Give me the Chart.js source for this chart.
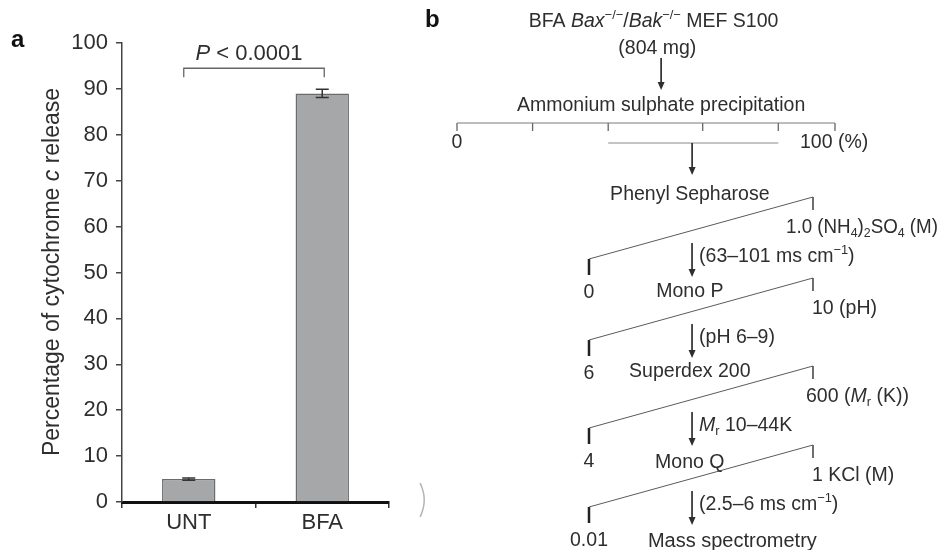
<!DOCTYPE html>
<html>
<head>
<meta charset="utf-8">
<script src="https://cdn.jsdelivr.net/npm/chart.js@4"></script>
<style>
html, body { margin: 0; padding: 0; background: #fff; }
#wrap { position: relative; width: 940px; height: 550px; overflow: hidden; }
#chartA { position: absolute; left: 0; top: 0; }
#chartB { position: absolute; left: 420px; top: 0; }
</style>
</head>
<body>
<div id="wrap">
  <canvas id="chartA" width="430" height="550"></canvas>
  <canvas id="chartB" width="520" height="550"></canvas>
</div>
<script>
// Panel a data
const groups = ['UNT', 'BFA'];
const release = [5, 89];
const releaseErr = [0.25, 0.9];
const sigLevel = 94.5;

// Panel b data (purification scheme)
const cutPoints = [0, 20, 40, 65, 85, 100];   // ammonium sulphate cuts (%)
const poolRange = [40, 85];
const columns = ['Phenyl Sepharose', 'Mono P', 'Superdex 200', 'Mono Q'];
const gradFrom = ['0', '6', '4', '0.01'];
const gradTo = [
    [{ t: '1.0 (NH' }, { t: '4', s: 'sub' }, { t: ')' }, { t: '2', s: 'sub' }, { t: 'SO' }, { t: '4', s: 'sub' }, { t: ' (M)' }],
    [{ t: '10 (pH)' }],
    [{ t: '600 (' }, { t: 'M', i: true }, { t: 'r', s: 'sub' }, { t: ' (K))' }],
    [{ t: '1 KCl (M)' }]
];
const pooled = [
    [{ t: '(63–101 ms cm' }, { t: '−1', s: 'sup' }, { t: ')' }],
    [{ t: '(pH 6–9)' }],
    [{ t: 'M', i: true }, { t: 'r', s: 'sub' }, { t: ' 10–44K' }],
    [{ t: '(2.5–6 ms cm' }, { t: '−1', s: 'sup' }, { t: ')' }]
];
const finalStep = 'Mass spectrometry';

// Layout for panel b (vertical positions, px)
const rowTop = [197, 278, 366, 445];
const nameY = [195, 292, 372, 463];
const endDx = [-27, -1, -7, -1];
const slantDrop = 62;
const scaleY = 123;
const poolY = 143;

const FONT = '"Liberation Sans", Arial, Helvetica, sans-serif';
const INK = '#2e2e2e';

// Draw text made of styled parts (italic, superscript, subscript)
function drawRich(ctx, parts, x, y, align, size, maxWidth) {
    const fontFor = p => (p.i ? 'italic ' : '') + (p.s ? size * 0.66 : size) + 'px ' + FONT;
    let total = 0;
    parts.forEach(p => { ctx.font = fontFor(p); total += ctx.measureText(p.t).width; });
    const k = maxWidth && total > maxWidth ? maxWidth / total : 1;
    const w = total * k;
    const x0 = align === 'center' ? x - w / 2 : (align === 'right' ? x - w : x);
    ctx.save();
    ctx.translate(x0, y);
    ctx.scale(k, 1);
    ctx.textAlign = 'left';
    ctx.textBaseline = 'middle';
    let cx = 0;
    parts.forEach(p => {
        ctx.font = fontFor(p);
        let dy = 0;
        if (p.s === 'sup') dy = -size * 0.32;
        if (p.s === 'sub') dy = size * 0.3;
        ctx.fillText(p.t, cx, dy);
        cx += ctx.measureText(p.t).width;
    });
    ctx.restore();
}

function drawArrow(ctx, x, y1, y2) {
    ctx.beginPath();
    ctx.moveTo(x, y1);
    ctx.lineTo(x, y2 - 6);
    ctx.stroke();
    ctx.beginPath();
    ctx.moveTo(x - 3.5, y2 - 8);
    ctx.lineTo(x + 3.5, y2 - 8);
    ctx.lineTo(x, y2);
    ctx.closePath();
    ctx.fill();
}

// Extras for panel a: error bars, significance bracket, labels
const panelAExtras = {
    id: 'panelAExtras',
    afterDatasetsDraw(chart) {
        const { ctx, scales: { x, y } } = chart;
        ctx.save();
        ctx.strokeStyle = '#333';
        ctx.lineWidth = 1.5;
        release.forEach((v, i) => {
            const cx = x.getPixelForValue(i);
            const top = y.getPixelForValue(v + releaseErr[i]);
            const bot = y.getPixelForValue(v - releaseErr[i]);
            ctx.beginPath();
            ctx.moveTo(cx, top); ctx.lineTo(cx, bot);
            ctx.moveTo(cx - 6.5, top); ctx.lineTo(cx + 6.5, top);
            ctx.moveTo(cx - 6.5, bot); ctx.lineTo(cx + 6.5, bot);
            ctx.stroke();
        });

        // significance bracket
        const x1 = x.getPixelForValue(0) - 5;
        const x2 = x.getPixelForValue(1) + 2;
        const yb = y.getPixelForValue(sigLevel);
        ctx.strokeStyle = '#666';
        ctx.lineWidth = 1.3;
        ctx.beginPath();
        ctx.moveTo(x1, yb + 9); ctx.lineTo(x1, yb); ctx.lineTo(x2, yb); ctx.lineTo(x2, yb + 9);
        ctx.stroke();
        ctx.fillStyle = INK;
        drawRich(ctx, [{ t: 'P', i: true }, { t: ' < 0.0001' }], (x1 + x2) / 2 - 5, yb - 14, 'center', 22);

        // y axis title
        ctx.save();
        ctx.translate(53, 272);
        ctx.rotate(-Math.PI / 2);
        drawRich(ctx, [{ t: 'Percentage of cytochrome ' }, { t: 'c', i: true }, { t: ' release' }], 0, 0, 'center', 23);
        ctx.restore();

        // panel letter
        ctx.font = 'bold 24px ' + FONT;
        ctx.textAlign = 'left';
        ctx.textBaseline = 'middle';
        ctx.fillStyle = '#111';
        ctx.fillText('a', 11, 40);

        // faint bracket mark at the lower right
        ctx.strokeStyle = '#b5b5b5';
        ctx.lineWidth = 1.5;
        ctx.beginPath();
        ctx.arc(386, 500, 38, -0.46, 0.46);
        ctx.stroke();
        ctx.restore();
    }
};

new Chart(document.getElementById('chartA'), {
    type: 'bar',
    data: {
        labels: groups,
        datasets: [{
            data: release,
            backgroundColor: '#a5a7a9',
            borderColor: '#6a6b6d',
            borderWidth: 1.5,
            barPercentage: 0.4,
            categoryPercentage: 1
        }]
    },
    options: {
        responsive: false,
        animation: false,
        layout: { padding: { top: 43, right: 41, left: 0, bottom: 0 } },
        plugins: { legend: { display: false }, tooltip: { enabled: false } },
        scales: {
            x: {
                z: 1,
                grid: { drawOnChartArea: false, tickLength: 6, color: '#333', lineWidth: 1.5, offset: true },
                border: { color: '#111', width: 3 },
                ticks: { color: INK, font: { family: FONT, size: 22 }, padding: 2 },
                afterFit: s => { s.height = 48; }
            },
            y: {
                min: 0,
                max: 100,
                grid: { drawOnChartArea: false, tickLength: 6, color: '#444', lineWidth: 1.5 },
                border: { color: '#444', width: 1.5 },
                ticks: { stepSize: 10, color: INK, font: { family: FONT, size: 22 }, padding: 8 },
                afterFit: s => { s.width = 122; }
            }
        }
    },
    plugins: [panelAExtras]
});

// Panel b: scheme lines as line segments on linear scales
const segs = [];
function seg(axis, xa, ya, xb, yb, color, width) {
    segs.push({
        xAxisID: axis,
        data: [{ x: xa, y: ya }, { x: xb, y: yb }],
        showLine: true,
        borderColor: color,
        borderWidth: width,
        pointRadius: 0
    });
}
seg('xp', cutPoints[0], scaleY, cutPoints[cutPoints.length - 1], scaleY, '#7a7a7a', 1);
cutPoints.forEach(c => seg('xp', c, scaleY, c, scaleY + 8, '#666', 1.3));
seg('xp', poolRange[0], poolY, poolRange[1], poolY, '#8a8a8a', 1);
columns.forEach((c, i) => {
    const top = rowTop[i], bot = top + slantDrop;
    seg('x', 0, bot, 1, top, '#5a5a5a', 1);
    seg('x', 1, top, 1, top + 13, '#5a5a5a', 1);
    seg('x', 0, bot, 0, bot + 16, '#222', 2.5);
});

const panelBText = {
    id: 'panelBText',
    afterDatasetsDraw(chart) {
        const { ctx, scales } = chart;
        const X = v => scales.x.getPixelForValue(v);
        const XP = v => scales.xp.getPixelForValue(v);
        const Y = v => scales.y.getPixelForValue(v);
        ctx.save();
        ctx.fillStyle = INK;
        ctx.strokeStyle = '#222';
        ctx.lineWidth = 1.6;
        const fs = 19.5;

        ctx.font = 'bold 24px ' + FONT;
        ctx.textAlign = 'left';
        ctx.textBaseline = 'middle';
        ctx.fillStyle = '#111';
        ctx.fillText('b', 5, Y(20));
        ctx.fillStyle = INK;

        drawRich(ctx, [{ t: 'BFA ' }, { t: 'Bax', i: true }, { t: '−/−', s: 'sup' }, { t: '/' },
            { t: 'Bak', i: true }, { t: '−/−', s: 'sup' }, { t: ' MEF S100' }], XP(52), Y(22), 'center', fs);
        drawRich(ctx, [{ t: '(804 mg)' }], XP(53), Y(49), 'center', fs);
        drawArrow(ctx, XP(54), Y(58), Y(90));
        drawRich(ctx, [{ t: 'Ammonium sulphate precipitation' }], XP(54), Y(106), 'center', fs);
        drawRich(ctx, [{ t: String(cutPoints[0]) }], XP(cutPoints[0]), Y(poolY), 'center', fs);
        drawRich(ctx, [{ t: cutPoints[cutPoints.length - 1] + ' (%)' }], XP(100) - 35, Y(poolY), 'left', fs);
        drawArrow(ctx, XP(62.2), Y(poolY), Y(175));

        columns.forEach((name, i) => {
            const top = rowTop[i], bot = top + slantDrop;
            drawRich(ctx, [{ t: name }], X(0.45), Y(nameY[i]), 'center', fs);
            drawRich(ctx, gradTo[i], X(1) + endDx[i], Y(top + 31), 'left', fs, 152);
            drawRich(ctx, [{ t: gradFrom[i] }], X(0), Y(bot + 34), 'center', fs);
            drawArrow(ctx, X(0.46), Y(bot - 16), Y(bot + 18));
            drawRich(ctx, pooled[i], X(0.46) + 7, Y(bot - 2), 'left', fs);
        });
        drawRich(ctx, [{ t: finalStep }], X(0.64), Y(rowTop[3] + slantDrop + 34), 'center', fs + 0.5);
        ctx.restore();
    }
};

new Chart(document.getElementById('chartB'), {
    type: 'scatter',
    data: { datasets: segs },
    options: {
        responsive: false,
        animation: false,
        layout: { padding: 0 },
        plugins: { legend: { display: false }, tooltip: { enabled: false } },
        scales: {
            x: { type: 'linear', display: false, min: -0.7545, max: 1.567 },
            xp: { type: 'linear', axis: 'x', display: false, min: -9.788, max: 127.78 },
            y: { type: 'linear', display: false, min: 0, max: 550, reverse: true }
        }
    },
    plugins: [panelBText]
});
</script>
</body>
</html>
